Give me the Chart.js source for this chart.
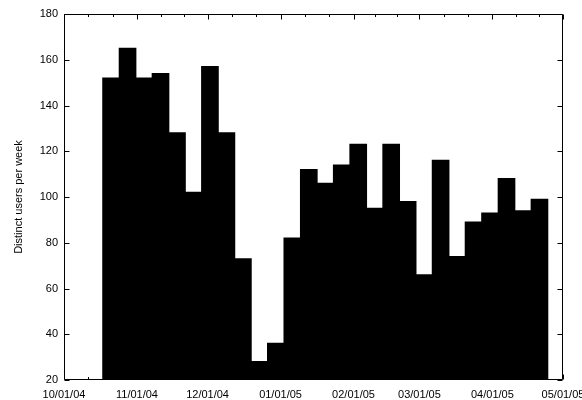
<!DOCTYPE html>
<html><head><meta charset="utf-8">
<script src="https://cdn.jsdelivr.net/npm/chart.js@4.4.1/dist/chart.umd.min.js"></script>
<style>html,body{margin:0;padding:0;background:#fff}#wrap{width:582px;height:400px;position:relative}</style>
</head><body><div id="wrap"><canvas id="c"></canvas></div>
<script>
// Week (bar centre) dates
const weeks = ["2004-10-21","2004-10-28","2004-11-04","2004-11-11","2004-11-18","2004-11-25",
  "2004-12-02","2004-12-09","2004-12-16","2004-12-23","2004-12-30","2005-01-06","2005-01-13",
  "2005-01-20","2005-01-27","2005-02-03","2005-02-10","2005-02-17","2005-02-24","2005-03-03",
  "2005-03-10","2005-03-17","2005-03-24","2005-03-31","2005-04-07","2005-04-14","2005-04-21"];
// Distinct users per week
const users = [152,165,152,154,128,102,157,128,73,28,36,82,112,106,114,123,95,123,98,66,116,74,89,93,108,94,99];
// X tick dates and labels
const tickDates = ["2004-10-01","2004-11-01","2004-12-01","2005-01-01","2005-02-01","2005-03-01","2005-04-01","2005-05-01"];
const tickLabels = ["10/01/04","11/01/04","12/01/04","01/01/05","02/01/05","03/01/05","04/01/05","05/01/05"];
const yTitle = "Distinct users per week";

const origin = Date.UTC(2004, 9, 1);
const dayOf = s => (Date.parse(s + "T00:00:00Z") - origin) / 86400000;
const tickDays = tickDates.map(dayOf);
const points = weeks.map((w, i) => ({x: dayOf(w), y: users[i]}));

const FONT = {family: "'Liberation Sans', Arial, sans-serif", size: 11};

const frameTicks = {
  id: 'frameTicks',
  afterDatasetsDraw(chart) {
    const {ctx, chartArea: a, scales: {x, y}} = chart;
    ctx.save();
    ctx.strokeStyle = '#000';
    ctx.lineWidth = 1;
    const L = a.left + 0.5, R = a.right - 0.5, T = a.top + 0.5, B = a.bottom - 0.5;
    ctx.beginPath();
    ctx.moveTo(L, T); ctx.lineTo(R, T); ctx.lineTo(R, B); ctx.lineTo(L, B); ctx.closePath();
    // y ticks (inward, both sides)
    y.ticks.forEach(t => {
      const py = Math.round(y.getPixelForValue(t.value)) + 0.5;
      ctx.moveTo(L, py); ctx.lineTo(L + 5, py);
      ctx.moveTo(R, py); ctx.lineTo(R - 5, py);
    });
    // x ticks major + minor (thirds of month)
    for (let i = 0; i < tickDays.length; i++) {
      const px = Math.round(x.getPixelForValue(tickDays[i])) + 0.5;
      ctx.moveTo(px, T); ctx.lineTo(px, T + 5);
      ctx.moveTo(px, B); ctx.lineTo(px, B - 5);
      if (i < tickDays.length - 1) {
        for (let k = 1; k < 3; k++) {
          const d = tickDays[i] + (tickDays[i + 1] - tickDays[i]) * k / 3;
          const mx = Math.round(x.getPixelForValue(d)) + 0.5;
          ctx.moveTo(mx, T); ctx.lineTo(mx, T + 2.5);
          ctx.moveTo(mx, B); ctx.lineTo(mx, B - 2.5);
        }
      }
    }
    ctx.stroke();
    ctx.restore();
  }
};

new Chart(document.getElementById('c'), {
  type: 'bar',
  data: {
    datasets: [{
      data: points,
      backgroundColor: '#000',
      borderWidth: 0,
      inflateAmount: 0.6,
      barPercentage: 1.0,
      categoryPercentage: 1.0
    }]
  },
  options: {
    responsive: true,
    maintainAspectRatio: false,
    animation: false,
    devicePixelRatio: 1,
    layout: {padding: {left: 0, right: 19, top: 14, bottom: 0}},
    plugins: {legend: {display: false}, tooltip: {enabled: false}},
    scales: {
      x: {
        type: 'linear',
        offset: false,
        min: tickDays[0],
        max: tickDays[tickDays.length - 1],
        grid: {display: false, drawTicks: false, offset: false},
        border: {display: false},
        afterBuildTicks: s => { s.ticks = tickDays.map(v => ({value: v})); },
        ticks: {
          autoSkip: false, maxRotation: 0, padding: 8, color: '#000', font: FONT,
          callback: (v, i) => tickLabels[i]
        },
        afterFit: s => { s.height = 20; s.paddingLeft = 0; s.paddingRight = 0; }
      },
      y: {
        min: 20, max: 180,
        grid: {display: false, drawTicks: false},
        border: {display: false},
        ticks: {stepSize: 20, padding: 6, color: '#000', font: FONT},
        title: {display: true, text: yTitle, color: '#000', font: FONT, padding: {top: 12, bottom: 0}},
        afterFit: s => { s.width = 64; s.paddingTop = 0; s.paddingBottom = 0; }
      }
    }
  },
  plugins: [frameTicks]
});
</script>
</body></html>
